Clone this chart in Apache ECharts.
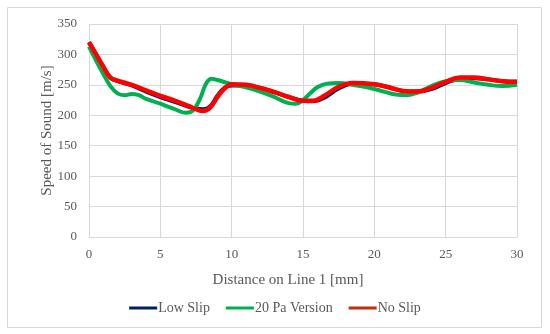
<!DOCTYPE html>
<html><head><meta charset="utf-8">
<script src="https://cdn.jsdelivr.net/npm/echarts@6/dist/echarts.min.js"></script>
<style>html,body{margin:0;padding:0;background:#fff}#c{width:550px;height:334px}</style>
</head><body><div id="c"></div>
<script>
var xTitle = 'Distance on Line 1 [mm]';
var yTitle = 'Speed of Sound [m/s]';
var seriesNames = ['Low Slip', '20 Pa Version', 'No Slip'];
var lowSlipX = [0,0.5,1,1.5,2,3,4,5,6,7,7.5,8,8.5,9,9.5,10,11,12,13,14,15,15.7,16.5,17.5,18.5,20,21,22,23,24,25,26,27,28,29,30];
var lowSlipY = [320,300,280,262,256,249,239,230,222,214,211,210,215,232,245,249,249,245,238,230,224,223,229,244,252,251,246,240,239,243,253,260,261,259,256,255];
var paX = [0,0.5,1,1.5,2,2.5,3,3.5,4,5,6,6.8,7.3,7.8,8.2,8.6,9,10,11,12,13,14,14.5,15,15.5,16,16.7,17.5,18.5,19.5,20.5,21.5,22.3,23,24,25,26,27,28,29,30];
var paY = [313,290,268,248,236,233,235,233,227,219,210,204,208,228,252,260,258,251,246,239,230,220,219,225,236,246,252,253,250,246,240,234,233,237,248,256,258,254,250,248,250];
var noSlipX = [0,0.5,1,1.5,2,3,4,5,6,7,7.5,8,8.5,9,9.5,10,11,12,13,14,15,15.7,16.5,17.5,18.5,20,21,22,23,24,25,26,27,28,29,30];
var noSlipY = [320,300,280,262,257,250,241,232,224,215,210,207,213,230,244,251,250,245,238,230,224,224,232,247,253,251,246,240,239,245,255,262,262,259,256,255];

function pairs(xs, ys){ return xs.map(function(x,i){ return [x, ys[i]]; }); }
var font = 'Liberation Serif';
var chart = echarts.init(document.getElementById('c'));
chart.setOption({
  animation: false,
  graphic: [{type:'rect', shape:{x:7.5,y:7.5,width:534,height:320}, style:{fill:'none', stroke:'#d9d9d9', lineWidth:1}, silent:true}],
  grid: {left: 89, right: 33, top: 24, bottom: 97},
  xAxis: {
    type: 'value', min: 0, max: 30, interval: 5,
    name: xTitle, nameLocation: 'middle', nameGap: 36, nameMoveOverlap: false,
    nameTextStyle: {fontFamily: font, fontSize: 15, color: '#595959', padding: [0, 30, 0, 0]},
    axisLine: {show: true, lineStyle: {color: '#d9d9d9'}},
    axisTick: {show: false},
    axisLabel: {fontFamily: font, fontSize: 13, color: '#595959', margin: 11},
    splitLine: {show: true, lineStyle: {color: '#d9d9d9'}}
  },
  yAxis: {
    type: 'value', min: 0, max: 350, interval: 50,
    name: yTitle, nameLocation: 'middle', nameGap: 34, nameMoveOverlap: false,
    nameTextStyle: {fontFamily: font, fontSize: 15, color: '#595959'},
    axisLine: {show: false},
    axisTick: {show: false},
    axisLabel: {fontFamily: font, fontSize: 13, color: '#595959', margin: 12},
    splitLine: {show: true, lineStyle: {color: '#d9d9d9'}}
  },
  legend: {
    bottom: 14, left: 'center', icon: 'rect', itemWidth: 28, itemHeight: 3, itemGap: 16,
    textStyle: {fontFamily: font, fontSize: 14, color: '#595959', padding: [0,0,0,-4]},
    data: seriesNames
  },
  series: [
    {name: seriesNames[0], type: 'line', smooth: 0.4, showSymbol: false, data: pairs(lowSlipX, lowSlipY), lineStyle: {color: '#002060', width: 4}, itemStyle: {color: '#002060'}},
    {name: seriesNames[1], type: 'line', smooth: 0.4, showSymbol: false, data: pairs(paX, paY), lineStyle: {color: '#00b050', width: 4}, itemStyle: {color: '#00b050'}},
    {name: seriesNames[2], type: 'line', smooth: 0.4, showSymbol: false, data: pairs(noSlipX, noSlipY), lineStyle: {color: '#ff0000', width: 4.5}, itemStyle: {color: '#c0300a'}}
  ]
});
</script></body></html>
